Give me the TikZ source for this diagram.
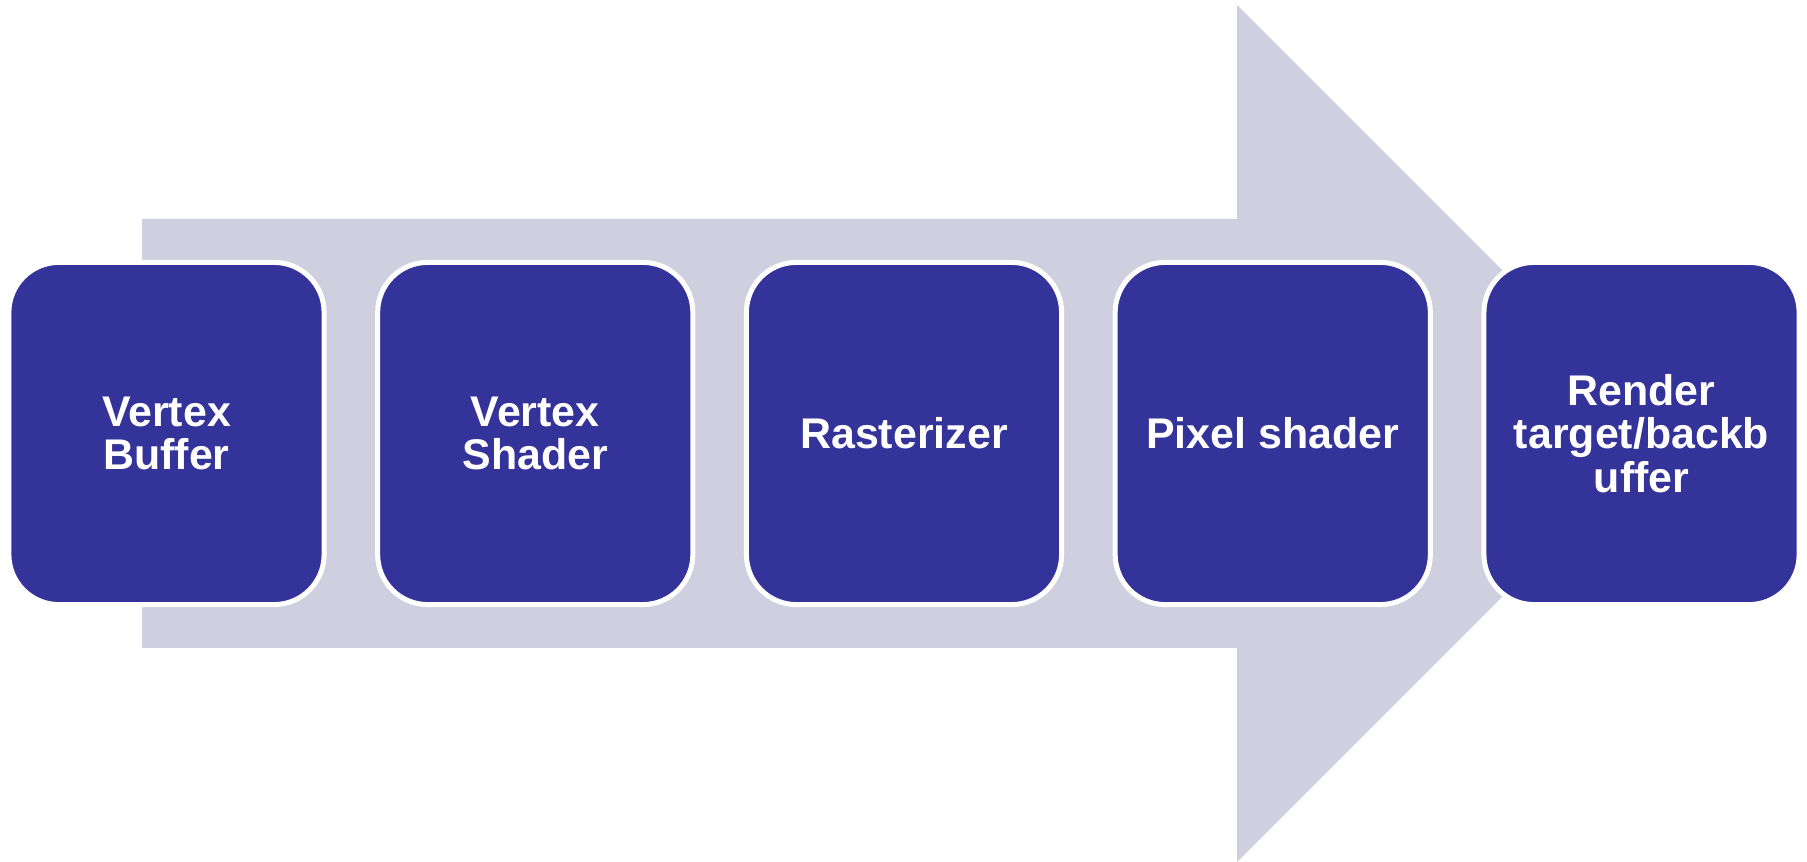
\documentclass[tikz,border=0pt]{standalone}
\usepackage{fontspec}
\setmainfont{Liberation Sans}
\usepackage{tikz}
\usetikzlibrary{calc}
\definecolor{stagefill}{HTML}{343399}
\definecolor{arrowbg}{HTML}{CFCFE0}
\tikzset{
  stage/.style={draw=white, line width=0.05cm, fill=stagefill, rounded corners=0.5cm,
    minimum width=3.15cm, minimum height=3.42cm, inner sep=0pt, align=center,
    text=white, font=\bfseries\fontsize{12.2pt}{12.3pt}\selectfont},
}

\begin{document}
\begin{tikzpicture}[x=0.01cm, y=-0.01cm]
\useasboundingbox (0,0) rectangle (1807,862);
% big background arrow
\fill[arrowbg] (142,219) -- (1237,219) -- (1237,5) -- (1665.5,433.5)
  -- (1237,862) -- (1237,648) -- (142,648) -- cycle;
% pipeline stages
\def\pitch{368.75}
\foreach \i/\name/\txt in {
  0/vbuf/{Vertex\\Buffer},1/vshader/{Vertex\\Shader},2/raster/Rasterizer,
  3/pshader/Pixel shader,4/target/{Render\\target/backb\\uffer}}{
  \node[stage] (\name) at (166.5+\i*\pitch,433.5) {\txt};
}
\end{tikzpicture}
\end{document}
